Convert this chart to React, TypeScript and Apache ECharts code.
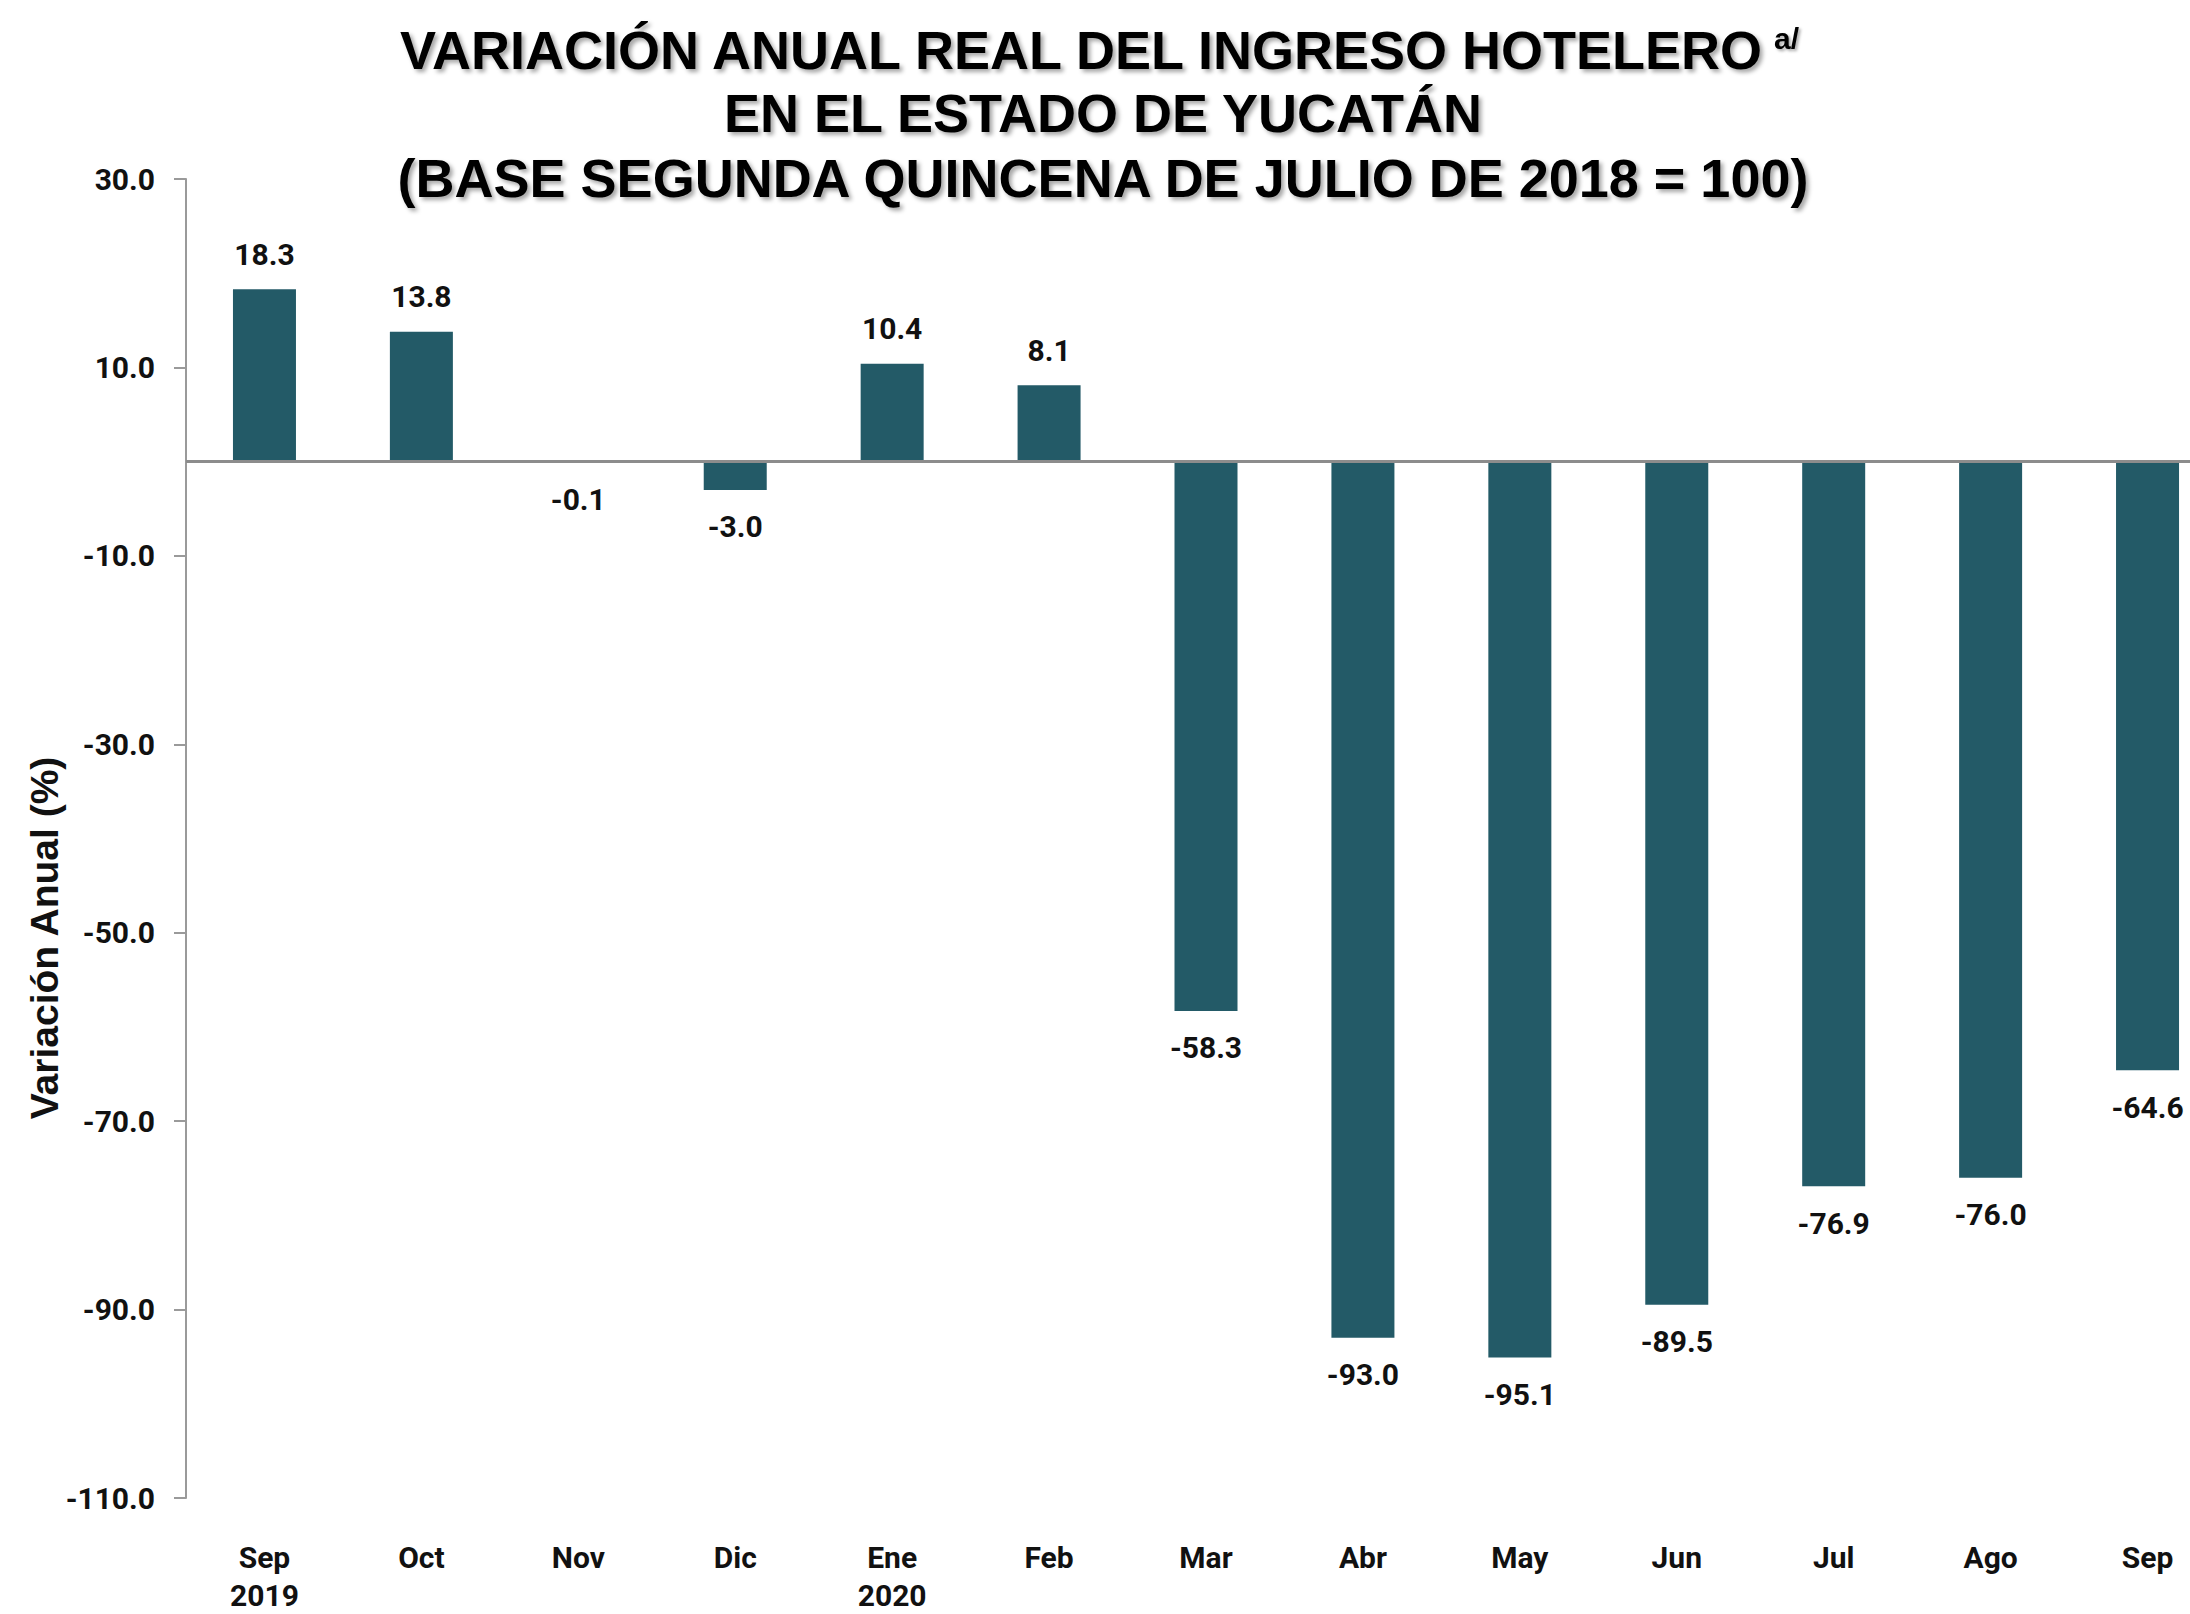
import React, { useEffect, useRef } from "react";
import * as echarts from "echarts";

const categories = ["Sep\n2019", "Oct", "Nov", "Dic", "Ene\n2020", "Feb", "Mar", "Abr", "May", "Jun", "Jul", "Ago", "Sep"];
const values = [18.3, 13.8, -0.1, -3.0, 10.4, 8.1, -58.3, -93.0, -95.1, -89.5, -76.9, -76.0, -64.6];
const yMin = -110;
const yMax = 30;
const yInterval = 20;
const titleLine1 = "VARIACIÓN ANUAL REAL DEL INGRESO HOTELERO";
const titleSup = "a/";
const titleLine2 = "EN EL ESTADO DE YUCATÁN";
const titleLine3 = "(BASE SEGUNDA QUINCENA DE JULIO DE 2018 = 100)";
const yAxisName = "Variación Anual (%)";

const BAR = "#235A67";
const NUMFONT = "Roboto";
const TITLEFONT = "Liberation Sans";

export default function App() {
  const ref = useRef<HTMLDivElement>(null);
  useEffect(() => {
    if (!ref.current) return;
    const chart = echarts.init(ref.current, undefined, { renderer: "svg" });
    const titleStyle = {
      fill: "#000",
      font: `bold 54px "${TITLEFONT}"`,
      textAlign: "center",
      textVerticalAlign: "middle",
      textShadowColor: "rgba(0,0,0,0.35)",
      textShadowBlur: 4,
      textShadowOffsetX: 3,
      textShadowOffsetY: 3,
    };
    chart.setOption({
      animation: false,
      backgroundColor: "#fff",
      grid: { left: 186, top: 179, bottom: 100, right: 0, containLabel: false },
      xAxis: {
        type: "category",
        data: categories,
        axisLine: { show: false },
        axisTick: { show: false },
        axisLabel: {
          interval: 0,
          margin: 40,
          color: "#111",
          fontFamily: NUMFONT,
          fontWeight: "bold",
          fontSize: 30,
          lineHeight: 38,
          verticalAlign: "top",
        },
      },
      yAxis: {
        type: "value",
        min: yMin,
        max: yMax,
        interval: yInterval,
        splitLine: { show: false },
        axisLine: { show: true, lineStyle: { color: "#9a9a9a", width: 2 } },
        axisTick: { show: true, length: 12, lineStyle: { color: "#9a9a9a", width: 2 } },
        axisLabel: {
          margin: 31,
          color: "#111",
          fontFamily: NUMFONT,
          fontWeight: "bold",
          fontSize: 30,
          formatter: (v: number) => v.toFixed(1),
        },
      },
      series: [
        {
          type: "bar",
          barWidth: 63,
          itemStyle: { color: BAR },
          data: values.map((v) => ({
            value: v,
            label: {
              show: true,
              position: v >= 0 ? "top" : "bottom",
              distance: v >= 0 ? 20 : 22,
              formatter: () => v.toFixed(1),
              color: "#111",
              fontFamily: NUMFONT,
              fontWeight: "bold",
              fontSize: 30,
            },
          })),
          markLine: {
            silent: true,
            symbol: "none",
            label: { show: false },
            lineStyle: { color: "#8c8c8c", width: 3, type: "solid" },
            data: [{ yAxis: 0 }],
          },
        },
      ],
      graphic: [
        { type: "text", x: 1081, y: 50, style: { ...titleStyle, text: titleLine1 } },
        {
          type: "text",
          x: 1774,
          y: 38,
          style: {
            text: titleSup,
            fill: "#000",
            font: `bold 30px "${TITLEFONT}"`,
            textAlign: "left",
            textVerticalAlign: "middle",
            textShadowColor: "rgba(0,0,0,0.35)",
            textShadowBlur: 3,
            textShadowOffsetX: 2,
            textShadowOffsetY: 2,
          },
        },
        { type: "text", x: 1103, y: 113, style: { ...titleStyle, text: titleLine2 } },
        { type: "text", x: 1103, y: 178, style: { ...titleStyle, text: titleLine3 } },
        {
          type: "text",
          x: 44,
          y: 938,
          rotation: Math.PI / 2,
          style: {
            text: yAxisName,
            fill: "#111",
            font: `bold 39px "${TITLEFONT}"`,
            textAlign: "center",
            textVerticalAlign: "middle",
          },
        },
      ],
    });
    return () => chart.dispose();
  }, []);
  return (
    <div
      ref={ref}
      style={{ position: "fixed", left: 0, top: 0, width: 2226, height: 1614 }}
    />
  );
}
